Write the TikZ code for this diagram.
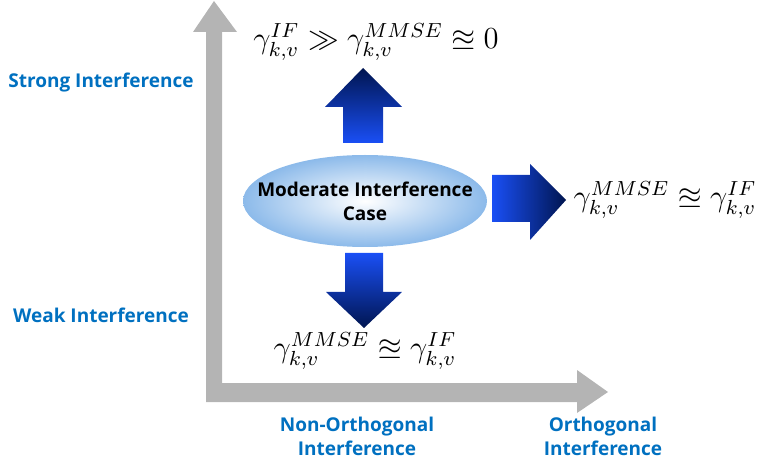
\documentclass[tikz,border=0pt]{standalone}
\usepackage{amsmath,amssymb}
\usepackage{fontspec}
\newfontfamily\labfont{Open Sans}
\definecolor{axisgray}{HTML}{B4B4B4}
\definecolor{labblue}{HTML}{0070C0}
\definecolor{arrbright}{HTML}{1A4FF5}
\definecolor{arrdark}{HTML}{001550}
\definecolor{ellblue}{HTML}{8CBAEA}
\newcommand{\bigformula}[1]{\scalebox{2.55}{\fontsize{12}{14}\selectfont$#1$}}
\tikzset{
  axislab/.style={font=\labfont\bfseries\fontsize{19}{24}\selectfont, text=labblue, align=center, inner sep=0pt},
  formula/.style={inner sep=0pt},
  casetext/.style={align=center, inner sep=0pt, font=\labfont\bfseries\fontsize{19}{24}\selectfont}
}
\begin{document}
\begin{tikzpicture}[x=1pt,y=-1pt]
\useasboundingbox (0,0) rectangle (761,465);
% axes
\fill[axisgray] (206,402) -- (577,402) -- (577,413) -- (608,392) -- (577,370) -- (577,383)
  -- (222,383) -- (222,32) -- (237,32) -- (214,1) -- (193,32) -- (206,32) -- cycle;
% central case
\shade[inner color=white, outer color=ellblue] (365,201) ellipse [x radius=122, y radius=46];
\node[casetext] (case) at (365,201) {Moderate Interference\\Case};
% up arrow
\shade[top color=arrdark, bottom color=arrbright] (343,143) -- (343,107) -- (325,107) -- (363,68) -- (402,107) -- (383,107) -- (383,143) -- cycle;
% right arrow
\shade[left color=arrbright, right color=arrdark] (492,175) -- (530,175) -- (530,164) -- (566,200) -- (530,240) -- (530,222) -- (492,222) -- cycle;
% down arrow
\shade[top color=arrbright, bottom color=arrdark] (345,253) -- (383,253) -- (383,292) -- (402,292) -- (364,328) -- (326,292) -- (345,292) -- cycle;
% formulas
\node[formula] (top) at (376,42) {\bigformula{\gamma_{k,v}^{IF} \gg \gamma_{k,v}^{MMSE} \approxeq 0}};
\node[formula] (right) at (665,200) {\bigformula{\gamma_{k,v}^{MMSE} \approxeq \gamma_{k,v}^{IF}}};
\node[formula] (bottom) at (365,351) {\bigformula{\gamma_{k,v}^{MMSE} \approxeq \gamma_{k,v}^{IF}}};
% axis labels
\node[axislab] (strong) at (101,83) {Strong Interference};
\node[axislab] (weak) at (101,315) {Weak Interference};
\node[axislab] (nonorth) at (357,436) {Non-Orthogonal\\Interference};
\node[axislab] (orth) at (603,436) {Orthogonal\\Interference};
\end{tikzpicture}
\end{document}
